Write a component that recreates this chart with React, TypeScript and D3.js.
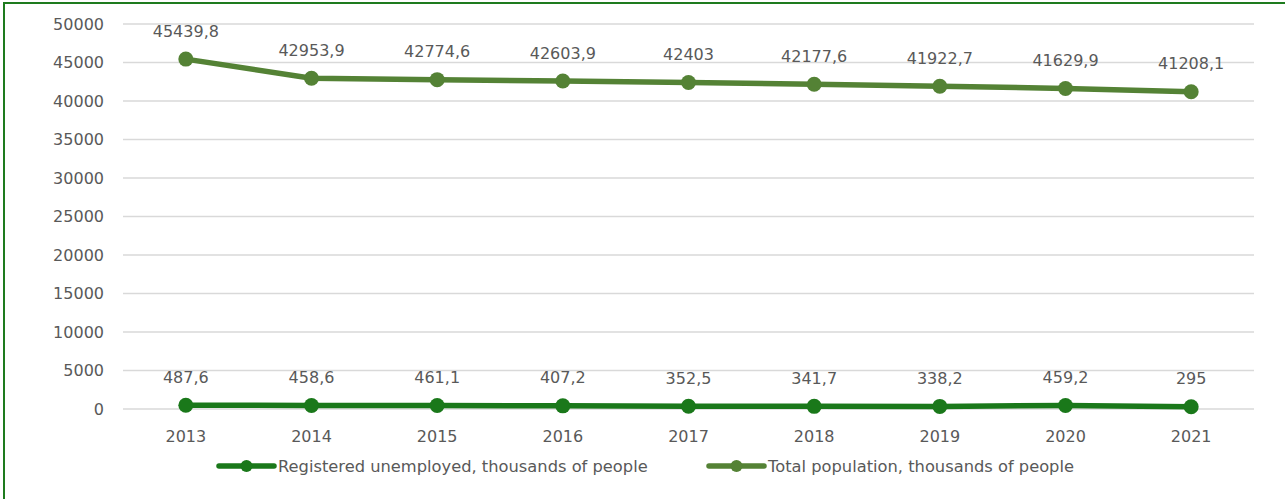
import * as React from 'react'
import * as d3 from 'd3'

const years = ['2013', '2014', '2015', '2016', '2017', '2018', '2019', '2020', '2021']
const unemployed = [487.6, 458.6, 461.1, 407.2, 352.5, 341.7, 338.2, 459.2, 295]
const population = [45439.8, 42953.9, 42774.6, 42603.9, 42403, 42177.6, 41922.7, 41629.9, 41208.1]
const yTicks = [0, 5000, 10000, 15000, 20000, 25000, 30000, 35000, 40000, 45000, 50000]
const seriesNames = ['Registered unemployed, thousands of people', 'Total population, thousands of people']

const font = '"DejaVu Sans", sans-serif'
const textColor = '#595959'
const colors = ['#1a781a', '#548235']

function fmt(v: number) {
	return String(v).replace('.', ',')
}

const App: React.FC = () => {
	const width = 1285
	const height = 499
	const dims = { left: 123, right: 1254, top: 24, bottom: 409 }

	const x = d3.scaleBand<string>().domain(years).range([dims.left, dims.right])
	const y = d3.scaleLinear().domain([0, 50000]).range([dims.bottom, dims.top])
	const cx = (d: string) => x(d)! + x.bandwidth() / 2

	const line = d3.line<number>()
		.x((_, i) => cx(years[i]))
		.y(d => y(d))

	const series = [unemployed, population]
	const legendX = [219, 709]

	return (
		<svg width={width} height={height} style={{ position: 'absolute', left: 0, top: 0 }}
			fontFamily={font}>
			<rect width={width} height={height} fill="#fff" />
			<path d={`M4,${height} V3 H${width}`} fill="none" stroke="#1e7b1e" strokeWidth={2} />
			{yTicks.map(t => (
				<g key={t}>
					<line x1={dims.left} x2={dims.right} y1={y(t)} y2={y(t)} stroke="#d9d9d9" strokeWidth={1.3} />
					<text x={104} y={y(t)} dy="0.35em" textAnchor="end" fontSize={16} fill={textColor}>{t}</text>
				</g>
			))}
			{years.map(yr => (
				<text key={yr} x={cx(yr)} y={436} dy="0.35em" textAnchor="middle" fontSize={16} fill={textColor}>{yr}</text>
			))}
			{series.map((s, si) => (
				<g key={si}>
					<path d={line(s)!} fill="none" stroke={colors[si]} strokeWidth={5.5} strokeLinejoin="round" strokeLinecap="round" />
					{s.map((v, i) => (
						<circle key={i} cx={cx(years[i])} cy={y(v)} r={7.5} fill={colors[si]} />
					))}
					{s.map((v, i) => (
						<text key={'l' + i} x={cx(years[i])} y={y(v) - 28} dy="0.35em" textAnchor="middle" fontSize={16} fill={textColor}>{fmt(v)}</text>
					))}
				</g>
			))}
			{seriesNames.map((n, si) => (
				<g key={n}>
					<line x1={legendX[si]} x2={legendX[si] + 55} y1={466} y2={466} stroke={colors[si]} strokeWidth={5.5} strokeLinecap="round" />
					<circle cx={legendX[si] + 27.5} cy={466} r={6} fill={colors[si]} />
					<text x={legendX[si] + 59} y={466} dy="0.35em" fontSize={16.3} fill={textColor}>{n}</text>
				</g>
			))}
		</svg>
	)
}

export default App
